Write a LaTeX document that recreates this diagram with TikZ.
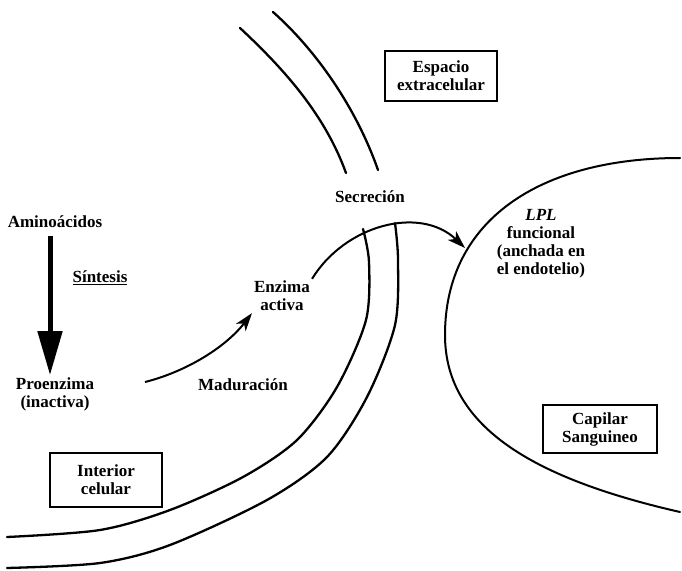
\documentclass[tikz,border=0pt]{standalone}
\usepackage{fontspec}
\setmainfont{Liberation Serif}
\usetikzlibrary{arrows.meta}
\tikzstyle{texto}=[align=center,font=\fontsize{17}{18}\selectfont\bfseries,inner sep=2pt]
\tikzstyle{caja}=[texto,draw,line width=1.2pt,minimum width=112pt,minimum height=50pt]
\tikzstyle{membrana}=[line width=2.3pt,line cap=round]
\tikzstyle{flecha}=[line width=2pt,-{Stealth[length=18pt,width=12pt,inset=5pt]}]

\begin{document}
\begin{tikzpicture}[x=1pt,y=-1pt]
\useasboundingbox (0,0) rectangle (682,570);

\node[texto] (amino) at (55,222) {Aminoácidos};
\node[texto] (sintesis) at (100,278) {\underline{Síntesis}};
\node[texto] (pro) at (55,394) {Proenzima\\(inactiva)};
\node[texto] (mad) at (243,385) {Maduración};
\node[texto] (enz) at (282,296) {Enzima\\activa};
\node[texto] (sec) at (370,197) {Secreción};
\node[texto] (lpl) at (541,244) {\textit{LPL}\\funcional\\(anchada en\\el endotelio)};

\node[caja] (espacio) at (441,76) {Espacio\\extracelular};
\node[caja,minimum width=114pt,minimum height=48pt] (capilar) at (600,429) {Capilar\\Sanguineo};
\node[caja,minimum height=54pt] (interior) at (106,480) {Interior\\celular};

% membrana celular
\draw[membrana] (240,28) .. controls (285,70) and (325,115) .. (346,173);
\draw[membrana] (273,12) .. controls (318,52) and (357,110) .. (378,170);
\draw[membrana] plot[smooth] coordinates {(363,229) (369,262) (366,320) (337,387) (297,440) (243,477) (170,510) (100,530) (7,537)};
\draw[membrana] plot[smooth] coordinates {(395,223) (398,260) (395,325) (367,397) (327,457) (267,500) (170,545) (100,563) (7,568)};

% capilar
\draw[line width=2pt,line cap=round] (680,158) .. controls (540,158) and (445,220) .. (445,335)
  .. controls (445,430) and (540,480) .. (680,512);

\coordinate (madini) at (145,382);
\coordinate (lplpunta) at (465,248);

\draw[line width=5pt,shorten <=6pt,-{Triangle[length=44pt,width=24pt]}] ([xshift=-5pt]amino.south) -- ([xshift=-5pt]pro.north);
\draw[flecha] (madini) .. controls (185,372) and (225,348) .. (enz.south west);
\draw[flecha] (enz.north east) .. controls (345,225) and (420,205) .. (lplpunta);
\end{tikzpicture}
\end{document}
